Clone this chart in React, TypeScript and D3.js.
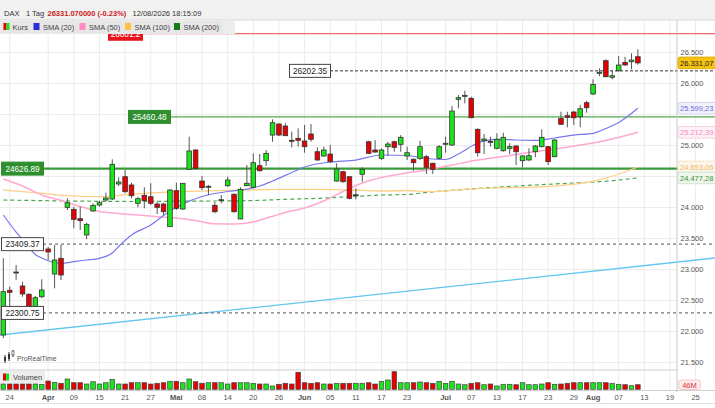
import React from 'react'
import * as d3 from 'd3'

// daily candles, index 0..99 (trading days from late March to 12 Aug)
const opens = [21945, 22666, 22960, 22735, 22601, 22401, 22562, 23331, 22928, 23181,
  24003, 23971, 23820, 23557, 23944, 24040, 24121, 24137, 24379, 24496,
  24363, 24068, 24197, 24174, 24056, 24056, 23691, 24271, 23976, 24616,
  24927, 24427, 24326, 24035, 24116, 24351, 24213, 23815, 24351, 24326,
  24674, 24754, 25168, 25346, 25313, 25083, 25115, 25072, 25185, 24899,
  24830, 24862, 24427, 24577, 24496, 24197, 24535, 25060, 24927, 24793,
  24980, 25060, 25018, 24830, 24777, 24793, 24819, 24712, 24793, 25028,
  25007, 25744, 25797, 25760, 25260, 25077, 25067, 24954, 24915, 24954,
  24991, 24754, 24766, 24899, 24980, 24980, 24819, 25438, 25479, 25539,
  25463, 25689, 25829, 26172, 26366, 26098, 26205, 26340, 26350, 26430]
const highs = [23181, 22724, 23073, 22804, 22617, 22574, 22843, 23363, 23396, 23396,
  24148, 24013, 24013, 23755, 24068, 24110, 24239, 24777, 24487, 24604,
  24400, 24174, 24326, 24390, 24093, 24077, 24293, 24400, 24390, 25141,
  24938, 24508, 24363, 24093, 24201, 24496, 24229, 24326, 24685, 24873,
  24862, 24927, 25421, 25357, 25357, 25222, 25276, 25330, 25346, 24970,
  24980, 25007, 24712, 24593, 24496, 24309, 24648, 25077, 25088, 24954,
  25060, 25077, 25168, 24980, 24793, 25077, 24846, 24722, 25007, 25141,
  25636, 25813, 25882, 25786, 25276, 25185, 25141, 25196, 25206, 25035,
  25002, 24846, 24954, 25007, 25260, 24991, 25104, 25544, 25544, 25560,
  25652, 25721, 26066, 26243, 26388, 26216, 26442, 26430, 26485, 26550]
const lows = [21892, 22401, 22832, 22562, 22376, 22380, 22537, 23154, 22698, 22832,
  23960, 23665, 23637, 23488, 23932, 24013, 24093, 24121, 24346, 24229,
  24148, 24003, 23987, 24040, 23895, 23879, 23691, 23960, 23960, 24616,
  24616, 24282, 24201, 23907, 24068, 24335, 23916, 23810, 24346, 24309,
  24577, 24669, 25060, 25152, 25152, 24970, 24980, 24883, 25060, 24754,
  24819, 24722, 24416, 24400, 24132, 24132, 24416, 24862, 24883, 24766,
  24830, 24899, 24899, 24766, 24593, 24766, 24540, 24540, 24777, 24883,
  24991, 25599, 25679, 25438, 24819, 24862, 24980, 24938, 24899, 24862,
  24685, 24648, 24754, 24809, 24970, 24685, 24809, 25330, 25293, 25330,
  25293, 25528, 25813, 26119, 26098, 26066, 26189, 26285, 26227, 26301]
const closes = [22643, 22633, 22950, 22606, 22401, 22546, 22670, 23283, 23154, 22912,
  24077, 23810, 23787, 23729, 24035, 24077, 24153, 24696, 24411, 24255,
  24190, 24142, 24110, 24068, 24003, 23932, 24282, 23987, 24390, 24911,
  24632, 24319, 24342, 23932, 24126, 24443, 23932, 24293, 24390, 24722,
  24593, 24873, 25367, 25168, 25157, 25077, 25083, 24980, 25099, 24766,
  24927, 24738, 24620, 24416, 24148, 24206, 24616, 24873, 24894, 24927,
  25023, 24970, 25131, 24883, 24722, 24980, 24648, 24616, 24980, 25035,
  25555, 25770, 25808, 25447, 24883, 25104, 25056, 25099, 25131, 24980,
  24899, 24830, 24835, 24991, 25131, 24738, 25088, 25341, 25454, 25447,
  25592, 25608, 25985, 26179, 26108, 26124, 26297, 26297, 26377, 26331.07]
// volume in millions
const volumes = [53, 53, 53, 53, 53, 53, 50, 83, 70, 60,
  103, 66, 66, 53, 76, 53, 66, 100, 53, 53,
  66, 66, 66, 53, 60, 66, 80, 80, 66, 103,
  76, 60, 66, 66, 66, 53, 66, 66, 66, 60,
  53, 53, 33, 50, 60, 53, 170, 66, 60, 66,
  53, 53, 60, 60, 60, 60, 60, 66, 53, 80,
  93, 176, 66, 66, 66, 73, 66, 60, 80, 60,
  80, 53, 46, 60, 66, 46, 53, 33, 50, 50,
  46, 66, 46, 46, 53, 66, 50, 53, 60, 66,
  66, 66, 66, 66, 66, 60, 50, 46, 36, 46]

// moving averages: [candle index, value]
const sma20 = [[0, 23879], [2, 23605], [3, 23484], [5, 23243], [6, 23186], [9, 23101], [11, 23127],
  [13, 23154], [15, 23181], [17, 23267], [18, 23371], [20, 23557], [23, 23718], [25, 23871],
  [28, 24056], [31, 24177], [35, 24258], [37, 24279], [40, 24346], [42, 24427], [45, 24564],
  [47, 24653], [51, 24733], [55, 24765], [59, 24846], [63, 24838], [66, 24790], [69, 24774],
  [71, 24862], [74, 25039], [77, 25099], [80, 25088], [83, 25083], [86, 25120], [89, 25168],
  [92, 25196], [94, 25273], [96, 25370], [99, 25599.23]]
const sma50 = [[0, 24459], [3, 24346], [6, 24201], [9, 24113], [12, 24016], [15, 23936], [18, 23903],
  [21, 23879], [24, 23852], [27, 23831], [30, 23790], [33, 23737], [36, 23734], [39, 23766],
  [41, 23826], [44, 23919], [47, 23992], [50, 24105], [53, 24258], [56, 24395], [59, 24483],
  [62, 24540], [66, 24604], [70, 24685], [74, 24765], [78, 24822], [82, 24886], [86, 24943],
  [90, 25007], [94, 25080], [99, 25212.39]]
const sma100 = [[0, 24282], [5, 24239], [10, 24190], [15, 24174], [20, 24214], [24, 24239], [28, 24258],
  [33, 24271], [38, 24282], [44, 24293], [49, 24293], [54, 24282], [59, 24266], [63, 24274],
  [67, 24255], [72, 24293], [77, 24317], [83, 24327], [88, 24363], [91, 24406], [94, 24475],
  [96, 24540], [99, 24653.06]]
const sma200 = [[0, 24121], [10, 24105], [20, 24097], [28, 24102], [38, 24110], [44, 24132], [49, 24148],
  [54, 24174], [59, 24201], [63, 24210], [67, 24253], [72, 24293], [77, 24326], [83, 24363],
  [88, 24390], [93, 24416], [99, 24477.28]]
const trendLine = [[-0.5, 21945], [111, 23186]]

const levels = [26801.2, 26202.35, 25460.48, 24626.89, 23409.37, 22300.75]
const priceTicks = [21500, 22000, 22500, 23000, 23500, 24000, 24500, 25000, 25500, 26000, 26500]
const dateTickIdx = [1, 7, 11, 15, 19, 23, 27, 31, 35, 39, 43, 47, 51, 55, 59, 63, 69, 73, 77, 81, 85, 89, 92, 96, 100, 104, 108]
const dateTickLabels = ['24', 'Apr', '09', '15', '21', '27', 'Mai', '08', '14', '20', '26', 'Jun', '05', '11', '17', '23', 'Jul', '07', '13', '17', '23', '29', 'Aug', '07', '13', '19', '25']
const monthNames = ['Apr', 'Mai', 'Jun', 'Jul', 'Aug']
const legendNames = ['Kurs', 'SMA (20)', 'SMA (50)', 'SMA (100)', 'SMA (200)']
const lastVolumeLabel = '46M'

const FONT = '"Liberation Sans", Arial, sans-serif'
const UP = '#19e619'
const DOWN = '#e60000'

export default function App() {
  const x = d3.scaleLinear().domain([0, 99]).range([3.3, 637.9])
  const y = d3.scaleLinear().domain([21500, 26500]).range([362.6, 52.4])
  const yv = d3.scaleLinear().domain([0, 190]).range([389.3, 370.3])
  const de = d3.formatLocale({ decimal: ',', thousands: '.', grouping: [3], currency: ['', ' €'] })
  const fmtTick = de.format(',.0f')
  const fmtVal = de.format(',.2f')
  const line = d3.line<number[]>().x(d => x(d[0])).y(d => y(d[1])).curve(d3.curveMonotoneX)
  const straight = d3.line<number[]>().x(d => x(d[0])).y(d => y(d[1]))
  const bw = 4.6
  const axisX = 677

  const levelStyle = [
    { stroke: '#e84545', w: 1, dash: '', lx: 108, lw: 34, fill: '#e8141e', tc: '#fff', bc: '#e8141e' },
    { stroke: '#333', w: 1, dash: '3,2', lx: 289, lw: 41, fill: '#fff', tc: '#222', bc: '#444' },
    { stroke: '#4caa4c', w: 1.2, dash: '', lx: 128, lw: 42, fill: '#2f8f2f', tc: '#fff', bc: '#2f8f2f' },
    { stroke: '#3a983a', w: 2.2, dash: '', lx: 1, lw: 42, fill: '#2f8f2f', tc: '#fff', bc: '#2f8f2f' },
    { stroke: '#777', w: 1.2, dash: '3,3', lx: 1, lw: 42, fill: '#fff', tc: '#222', bc: '#444' },
    { stroke: '#777', w: 1.2, dash: '3,3', lx: 1, lw: 42, fill: '#fff', tc: '#222', bc: '#444' },
  ]

  const endLabels = [
    { v: closes[closes.length - 1], fill: '#f5c211', stroke: '#e0b000', tc: '#222' },
    { v: sma20[sma20.length - 1][1], fill: '#f1f1fb', stroke: '#d4d4ee', tc: '#6d6de0' },
    { v: sma50[sma50.length - 1][1], fill: '#fdf1f6', stroke: '#f4d4e4', tc: '#f48cbf' },
    { v: sma100[sma100.length - 1][1], fill: '#fdf6ec', stroke: '#f3e0c0', tc: '#f0b458' },
    { v: sma200[sma200.length - 1][1], fill: '#eef6ee', stroke: '#cfe5cf', tc: '#3a943a' },
  ]
  // tick labels hidden under a value box are not drawn
  const visibleTicks = priceTicks.filter(p => endLabels.every(e => Math.abs(y(p) - y(e.v)) > 10))
  const legendColors = [null, '#2e2ed8', '#ff8ac4', '#ffc040', '#1a7a1a']
  const legendX = [1, 31.5, 77.5, 123, 172, 223]

  return (
    <svg width={715} height={408} style={{ position: 'absolute', left: 0, top: 0, background: '#fff' }}
      fontFamily={FONT}>
      {/* grid */}
      {priceTicks.map(p => (
        <line key={'h' + p} x1={0} x2={axisX} y1={y(p)} y2={y(p)} stroke="#ececec" />
      ))}
      {dateTickIdx.map(i => (
        <line key={'v' + i} x1={x(i)} x2={x(i)} y1={20} y2={390} stroke="#ececec" />
      ))}

      {/* trend + level lines */}
      <path d={straight(trendLine) || ''} stroke="#62c6f0" strokeWidth={1.3} fill="none" />
      {levels.map((v, k) => {
        const s = levelStyle[k]
        return (
          <line key={'l' + v} x1={s.lx + s.lw} x2={715} y1={y(v)} y2={y(v)}
            stroke={s.stroke} strokeWidth={s.w} strokeDasharray={s.dash || undefined} />
        )
      })}

      {/* moving averages */}
      <path d={line(sma200) || ''} stroke="#4fa84f" strokeWidth={1.2} strokeDasharray="4,3" fill="none" />
      <path d={line(sma100) || ''} stroke="#ffcf86" strokeWidth={1.3} fill="none" />
      <path d={line(sma50) || ''} stroke="#ffa8d0" strokeWidth={1.5} fill="none" />
      <path d={line(sma20) || ''} stroke="#7878ee" strokeWidth={1.2} fill="none" />

      {/* candles */}
      {opens.map((o, i) => {
        const c = closes[i]
        const top = y(Math.max(o, c))
        const h = Math.max(1, Math.abs(y(o) - y(c)))
        return (
          <g key={'c' + i}>
            <line x1={x(i)} x2={x(i)} y1={y(highs[i])} y2={y(lows[i])} stroke="#555" strokeWidth={1} />
            <rect x={x(i) - bw / 2} y={top} width={bw} height={h} fill={c >= o ? UP : DOWN}
              stroke="#333" strokeWidth={0.8} />
          </g>
        )
      })}

      {/* level labels */}
      {levels.map((v, k) => {
        const s = levelStyle[k]
        return (
          <g key={'ll' + v}>
            <rect x={s.lx + 0.5} y={y(v) - 6.5} width={s.lw} height={13} fill={s.fill} stroke={s.bc} strokeWidth={1} />
            <text x={s.lx + 0.5 + s.lw / 2} y={y(v) + 3} textAnchor="middle" fontSize={8.2} fill={s.tc}>
              {String(v)}
            </text>
          </g>
        )
      })}

      {/* volume panel */}
      <line x1={0} x2={axisX} y1={370} y2={370} stroke="#dcdcdc" strokeWidth={1.5} />
      {volumes.map((v, i) => (
        <rect key={'vol' + i} x={x(i) - bw / 2} y={yv(v)} width={bw} height={yv(0) - yv(v)}
          fill={closes[i] >= opens[i] ? UP : DOWN} stroke="#444" strokeWidth={0.7} />
      ))}
      <rect x={0} y={371} width={45} height={12} fill="#ececec" />
      <rect x={3} y={373.5} width={3} height={7} fill={DOWN} />
      <rect x={6} y={373.5} width={3} height={7} fill={UP} />
      <text x={13} y={380.3} fontSize={7.5} fill="#444">Volumen</text>
      <line x1={0} x2={715} y1={390.5} y2={390.5} stroke="#cfcfcf" />
      <line x1={0} x2={715} y1={403.5} y2={403.5} stroke="#e2e2e2" />

      {/* ProRealTime mark */}
      <g stroke="#333" strokeWidth={1}>
        <line x1={5} x2={5} y1={355} y2={363} />
        <line x1={9} x2={9} y1={352} y2={361} />
        <line x1={13} x2={13} y1={350} y2={357} />
      </g>
      <rect x={4} y={357} width={2} height={4} fill="#333" />
      <rect x={8} y={354} width={2} height={5} fill="#333" />
      <rect x={12} y={351} width={2} height={4} fill="#fff" stroke="#333" strokeWidth={0.6} />
      <text x={17} y={361} fontSize={6.8} fill="#555">ProRealTime</text>

      {/* date axis */}
      {dateTickIdx.map((i, k) => (
        <text key={'dt' + k} x={x(i)} y={400} textAnchor="middle" fontSize={7.5}
          fontWeight={monthNames.includes(dateTickLabels[k]) ? 'bold' : 'normal'} fill="#555">
          {dateTickLabels[k]}
        </text>
      ))}

      {/* price axis */}
      <line x1={axisX} x2={axisX} y1={20} y2={392} stroke="#c8c8c8" />
      {visibleTicks.map(p => (
        <text key={'pt' + p} x={680.5} y={y(p) + 2.7} fontSize={7.5} fill="#555">{fmtTick(p)}</text>
      ))}
      {endLabels.map((e, k) => (
        <g key={'el' + k}>
          <rect x={axisX + 1} y={y(e.v) - 5.8} width={40} height={11.6} rx={2} fill={e.fill} stroke={e.stroke} />
          <text x={680} y={y(e.v) + 2.7} fontSize={7.5} fill={e.tc}>{fmtVal(e.v)}</text>
        </g>
      ))}
      <rect x={axisX + 1.5} y={380} width={22} height={9.5} rx={3} fill="#fdecec" stroke="#f2caca" />
      <text x={axisX + 12.5} y={387.5} textAnchor="middle" fontSize={7.5} fill="#e03030">{lastVolumeLabel}</text>

      {/* header */}
      <rect x={0} y={0} width={715} height={20} fill="#f1f1f1" />
      <line x1={0} x2={715} y1={20} y2={20} stroke="#d6d6d6" />
      <text x={4} y={15.5} fontSize={7.5} fill="#333">DAX</text>
      <text x={26} y={15.5} fontSize={7.5} fill="#333">1 Tag</text>
      <text x={47.5} y={15.5} fontSize={7.5} fontWeight="bold" fill="#cc2222">26331.070000 (-0.23%)</text>
      <text x={132.5} y={15.5} fontSize={7.5} fill="#333">12/08/2026 18:15:09</text>

      {/* legend */}
      <rect x={0} y={20.5} width={235} height={13.5} fill="#ededed" />
      {legendNames.map((n, k) => (
        <g key={'lg' + n}>
          <rect x={legendX[k]} y={21} width={legendX[k + 1] - legendX[k] - 0.5} height={12.5}
            fill="#e6e6e6" />
          {k === 0 ? (
            <>
              <rect x={legendX[k] + 2.5} y={23} width={3} height={7} fill={DOWN} />
              <rect x={legendX[k] + 5.5} y={23} width={3} height={7} fill={UP} />
            </>
          ) : (
            <rect x={legendX[k] + 2} y={23} width={6} height={7} fill={legendColors[k] || ''} />
          )}
          <text x={legendX[k] + 11.5} y={30} fontSize={7.5} fill="#444">{n}</text>
        </g>
      ))}
    </svg>
  )
}
